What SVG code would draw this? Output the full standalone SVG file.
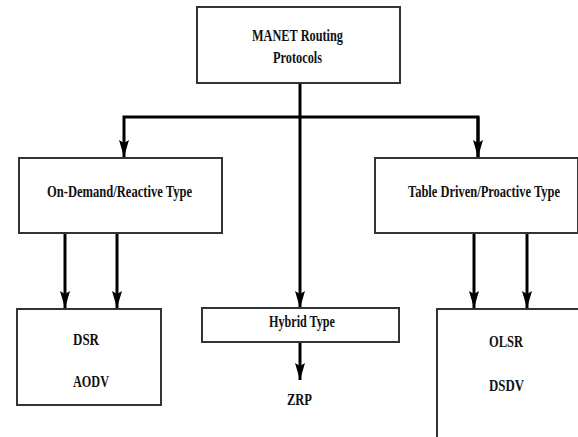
<svg xmlns="http://www.w3.org/2000/svg" width="578" height="437" viewBox="0 0 578 437">
<style>
.box{fill:#fff;stroke:#333;stroke-width:2}
.t{font-family:"Liberation Serif","Times New Roman",serif;font-weight:bold;font-size:16.5px;fill:#111}
.c{fill:none;stroke:#000;stroke-width:3}
</style>
<defs>
<marker id="ah" markerUnits="userSpaceOnUse" viewBox="0 0 17 10" markerWidth="17" markerHeight="10" refX="17" refY="5" orient="auto">
<path d="M0,0 L17,5 L0,10 L3,5 z" fill="#000"/>
</marker>
</defs>
<rect width="578" height="437" fill="#fff"/>
<g id="connectors">
<line class="c" x1="300" y1="83" x2="300" y2="308" marker-end="url(#ah)"/>
<polyline class="c" points="478,157 478,117 124,117 124,157" marker-end="url(#ah)"/>
<line class="c" x1="478" y1="117" x2="478" y2="157" marker-end="url(#ah)"/>
<line class="c" x1="65" y1="233" x2="65" y2="308" marker-end="url(#ah)"/>
<line class="c" x1="117" y1="233" x2="117" y2="308" marker-end="url(#ah)"/>
<line class="c" x1="474" y1="233" x2="474" y2="308" marker-end="url(#ah)"/>
<line class="c" x1="527" y1="233" x2="527" y2="308" marker-end="url(#ah)"/>
<line class="c" x1="300" y1="342" x2="300" y2="380" marker-end="url(#ah)"/>
</g>
<g id="manet">
<rect class="box" x="197" y="7" width="203" height="76"/>
<text class="t" x="252" y="41" textLength="91" lengthAdjust="spacingAndGlyphs">MANET Routing</text>
<text class="t" x="273" y="63" textLength="49" lengthAdjust="spacingAndGlyphs">Protocols</text>
</g>
<g id="reactive">
<rect class="box" x="19" y="158" width="203" height="75"/>
<text class="t" x="47" y="197" textLength="145" lengthAdjust="spacingAndGlyphs">On-Demand/Reactive Type</text>
</g>
<g id="proactive">
<rect class="box" x="375" y="158" width="203" height="75"/>
<text class="t" transform="matrix(0.8 0 0 1 408 197)" x="0" y="0" textLength="190" lengthAdjust="spacingAndGlyphs">Table Driven/Proactive Type</text>
</g>
<g id="hybrid">
<rect class="box" x="202" y="308" width="197" height="34"/>
<text class="t" x="269" y="327" textLength="66" lengthAdjust="spacingAndGlyphs">Hybrid Type</text>
</g>
<g id="reactive-protocols">
<rect class="box" x="17" y="309" width="144" height="96"/>
<text class="t" x="73" y="345" textLength="26" lengthAdjust="spacingAndGlyphs">DSR</text>
<text class="t" x="73" y="387" textLength="36" lengthAdjust="spacingAndGlyphs">AODV</text>
</g>
<g id="zrp">
<text class="t" x="287" y="405" textLength="25" lengthAdjust="spacingAndGlyphs">ZRP</text>
</g>
<g id="proactive-protocols">
<rect class="box" x="437" y="309" width="160" height="140"/>
<text class="t" x="489" y="347" textLength="34" lengthAdjust="spacingAndGlyphs">OLSR</text>
<text class="t" x="489" y="391" textLength="35" lengthAdjust="spacingAndGlyphs">DSDV</text>
</g>
</svg>
